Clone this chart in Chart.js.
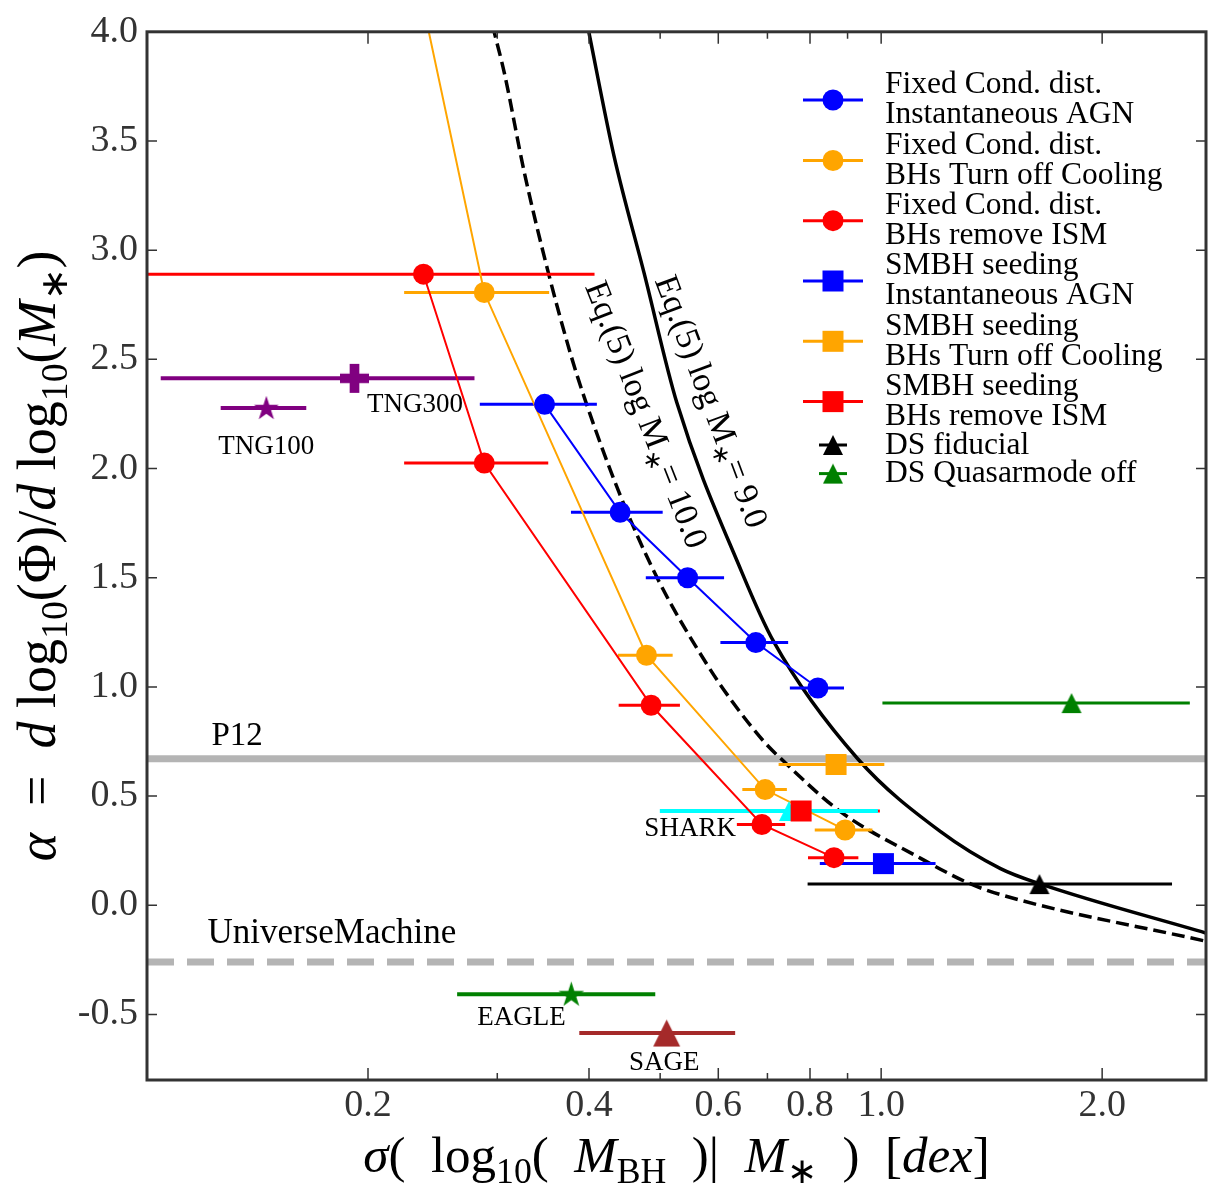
<!DOCTYPE html>
<html>
<head>
<meta charset="utf-8">
<script src="https://cdn.jsdelivr.net/npm/chart.js@4.4.1/dist/chart.umd.min.js"></script>
<style>
  html, body { margin: 0; padding: 0; background: #fff; }
  #wrap { width: 1220px; height: 1200px; }
</style>
</head>
<body>
<div id="wrap"><canvas id="chart"></canvas></div>
<script>
// axis ranges and ticks
const X_MIN = 0.1, X_MAX = 2.77, Y_MIN = -0.8, Y_MAX = 4.0;
const X_TICKS = [0.2, 0.3, 0.4, 0.5, 0.6, 0.7, 0.8, 0.9, 1.0, 2.0];
const X_LABELED = [0.2, 0.4, 0.6, 0.8, 1.0, 2.0];
const Y_TICKS = [-0.5, 0.0, 0.5, 1.0, 1.5, 2.0, 2.5, 3.0, 3.5, 4.0];

// Fixed Cond. dist. / Instantaneous AGN (blue circles)
const agnSigma = [0.348, 0.441, 0.545, 0.675, 0.820];
const agnAlpha = [2.294, 1.800, 1.500, 1.203, 0.995];
const agnLo = [0.284, 0.378, 0.478, 0.604, 0.751];
const agnHi = [0.410, 0.504, 0.611, 0.747, 0.890];

// Fixed Cond. dist. / BHs Turn off Cooling (orange circles), first point sits above the frame
const coolSigma = [0.225, 0.288, 0.479, 0.695, 0.893];
const coolAlpha = [4.5, 2.806, 1.145, 0.530, 0.345];
const coolLo = [null, 0.224, 0.438, 0.647, 0.812];
const coolHi = [null, 0.353, 0.520, 0.744, 0.973];

// Fixed Cond. dist. / BHs remove ISM (red circles)
const ismSigma = [0.238, 0.288, 0.486, 0.688, 0.8625];
const ismAlpha = [2.890, 2.025, 0.916, 0.370, 0.218];
const ismLo = [0.09, 0.224, 0.439, 0.636, 0.795];
const ismHi = [0.407, 0.352, 0.532, 0.740, 0.931];

// single points: [sigma, alpha, err lo, err hi]
const seedAgn = [1.007, 0.191, 0.825, 1.186];
const seedCool = [0.868, 0.645, 0.725, 1.010];
const seedIsm = [0.778, 0.432, 0.556, 0.996];
const dsFiducial = [1.643, 0.097, 0.794, 2.49];
const dsQuasarOff = [1.817, 0.926, 1.004, 2.633];
const tng300 = [0.1917, 2.413, 0.1044, 0.2793];
const tng100 = [0.1454, 2.277, 0.126, 0.1648];
const shark = [0.749, 0.432, 0.4995, 0.990];
const eagle = [0.3784, -0.407, 0.2645, 0.4924];
const sage = [0.5103, -0.585, 0.388, 0.6326];

// horizontal reference values
const P12_ALPHA = 0.671;
const UM_ALPHA = -0.26;

// Eq.(5) curves
const eqM9Sigma = [0.389, 0.400, 0.4326, 0.4753, 0.5268, 0.6459, 0.7142, 0.929, 1.205, 1.454, 1.643, 2.781];
const eqM9Alpha = [4.2, 3.995, 3.432, 2.897, 2.302, 1.526, 1.206, 0.671, 0.337, 0.168, 0.099, -0.129];
const eqM10Sigma = [0.287, 0.2973, 0.3067, 0.3266, 0.3521, 0.3781, 0.3963, 0.4394, 0.4961, 0.5801, 0.6275, 0.6927, 0.730, 0.8809, 1.132, 1.311, 1.454, 2.781];
const eqM10Alpha = [4.2, 3.995, 3.812, 3.355, 2.897, 2.517, 2.302, 1.892, 1.495, 1.099, 0.931, 0.749, 0.672, 0.428, 0.215, 0.104, 0.049, -0.166];

const C = {
  blue: '#0000ff', orange: '#ffa500', red: '#ff0000', green: '#008000', cyan: '#00ffff',
  purple: '#800080', brown: '#a52a2a', gray: '#b4b4b4', black: '#000000', axis: '#333333',
};
const SERIF = '"Liberation Serif", "Times New Roman", serif';

// filled matplotlib-like markers, used as pointStyle images
function makeMarker(shape, size, color) {
  const c = document.createElement('canvas');
  const s = Math.ceil(size + 4);
  c.width = s; c.height = s;
  const g = c.getContext('2d');
  const m = s / 2, r = size / 2;
  g.fillStyle = color;
  g.beginPath();
  if (shape === 'square') {
    g.rect(m - r, m - r, size, size);
  } else if (shape === 'triangle') {
    g.moveTo(m, m - r); g.lineTo(m + r, m + r); g.lineTo(m - r, m + r); g.closePath();
  } else if (shape === 'star') {
    for (let i = 0; i < 10; i++) {
      const a = -Math.PI / 2 + i * Math.PI / 5;
      const rr = i % 2 ? r * 0.382 : r;
      g.lineTo(m + rr * Math.cos(a), m + 0.06 * r + rr * Math.sin(a));
    }
    g.closePath();
  } else if (shape === 'plus') {
    const t = size / 3;
    g.rect(m - t / 2, m - r, t, size);
    g.rect(m - r, m - t / 2, size, t);
  }
  g.fill();
  return c;
}

const MK = {
  blueSq: makeMarker('square', 21, C.blue),
  orangeSq: makeMarker('square', 21, C.orange),
  redSq: makeMarker('square', 21, C.red),
  blackTri: makeMarker('triangle', 20, C.black),
  greenTri: makeMarker('triangle', 20, C.green),
  cyanTri: makeMarker('triangle', 20, C.cyan),
  brownTri: makeMarker('triangle', 27, C.brown),
  purpleStar: makeMarker('star', 26, C.purple),
  greenStar: makeMarker('star', 27, C.green),
  purplePlus: makeMarker('plus', 29, C.purple),
};

function pts(xs, ys) { return xs.map((x, i) => ({ x, y: ys[i] })); }

function bar(lo, hi, y, color, width, order) {
  return { data: [{ x: lo, y }, { x: hi, y }], showLine: true, borderColor: color, borderWidth: width, pointRadius: 0, order };
}

function seriesBars(xs, ys, lo, hi, color) {
  return xs.map((x, i) => lo[i] == null ? null : bar(lo[i], hi[i], ys[i], color, 3, 50)).filter(Boolean);
}

function circleSeries(xs, ys, color, order) {
  return {
    data: pts(xs, ys), showLine: true, borderColor: color, borderWidth: 2,
    pointStyle: 'circle', pointRadius: 10.5, pointBackgroundColor: color, pointBorderWidth: 0, order,
  };
}

function single(p, img, color, barWidth, orderBar, orderMk) {
  return [
    bar(p[2], p[3], p[1], color, barWidth, orderBar),
    { data: [{ x: p[0], y: p[1] }], showLine: false, pointStyle: img, pointRadius: 10, order: orderMk },
  ];
}

const datasets = [
  { data: [{ x: X_MIN, y: P12_ALPHA }, { x: X_MAX, y: P12_ALPHA }], showLine: true, borderColor: C.gray, borderWidth: 7, pointRadius: 0, order: 100 },
  { data: [{ x: X_MIN, y: UM_ALPHA }, { x: X_MAX, y: UM_ALPHA }], showLine: true, borderColor: C.gray, borderWidth: 7, borderDash: [27, 13], pointRadius: 0, order: 100 },
  { data: pts(eqM9Sigma, eqM9Alpha), showLine: true, borderColor: C.black, borderWidth: 3.5, pointRadius: 0, cubicInterpolationMode: 'monotone', order: 90 },
  { data: pts(eqM10Sigma, eqM10Alpha), showLine: true, borderColor: C.black, borderWidth: 3.5, borderDash: [13, 6], pointRadius: 0, cubicInterpolationMode: 'monotone', order: 90 },
  ...seriesBars(agnSigma, agnAlpha, agnLo, agnHi, C.blue),
  ...seriesBars(coolSigma, coolAlpha, coolLo, coolHi, C.orange),
  ...seriesBars(ismSigma, ismAlpha, ismLo, ismHi, C.red),
  circleSeries(ismSigma, ismAlpha, C.red, 12),
  circleSeries(coolSigma, coolAlpha, C.orange, 11),
  circleSeries(agnSigma, agnAlpha, C.blue, 10),
  ...single(tng300, MK.purplePlus, C.purple, 4, 45, 8),
  ...single(tng100, MK.purpleStar, C.purple, 4, 45, 8),
  ...single(eagle, MK.greenStar, C.green, 4, 45, 8),
  ...single(sage, MK.brownTri, C.brown, 4, 45, 8),
  ...single(seedIsm, MK.redSq, C.red, 3, 48, 5),
  ...single(shark, MK.cyanTri, C.cyan, 4, 46, 6),
  ...single(seedAgn, MK.blueSq, C.blue, 3, 48, 5),
  ...single(seedCool, MK.orangeSq, C.orange, 3, 48, 5),
  ...single(dsFiducial, MK.blackTri, C.black, 3, 48, 5),
  ...single(dsQuasarOff, MK.greenTri, C.green, 3, 48, 5),
];

// ---- text helpers (mixed italic / subscript runs) ----
function fontOf(size, italic) { return (italic ? 'italic ' : '') + size + 'px ' + SERIF; }
function richWidth(ctx, segs, size) {
  let w = 0;
  for (const s of segs) { ctx.font = fontOf(s.sub ? size * 0.7 : size, s.it); w += ctx.measureText(s.t).width; }
  return w;
}
function drawRich(ctx, segs, x, y, size) {
  for (const s of segs) {
    const fs = s.sub ? size * 0.7 : size;
    ctx.font = fontOf(fs, s.it);
    ctx.fillText(s.t, x, y + (s.sub ? size * 0.22 : 0));
    x += ctx.measureText(s.t).width;
  }
}

const X_TITLE = [
  { t: 'σ', it: true }, { t: '(  log' }, { t: '10', sub: true }, { t: '(  ' }, { t: 'M', it: true }, { t: 'BH', sub: true },
  { t: '  )|  ' }, { t: 'M', it: true }, { t: '∗', sub: true }, { t: '  )  [' }, { t: 'dex', it: true }, { t: ']' },
];
const Y_TITLE = [
  { t: 'α', it: true }, { t: '  =  ' }, { t: 'd', it: true }, { t: ' log' }, { t: '10', sub: true }, { t: '(Φ)/' },
  { t: 'd', it: true }, { t: ' log' }, { t: '10', sub: true }, { t: '(' }, { t: 'M', it: true }, { t: '∗', sub: true }, { t: ')' },
];
const EQ9 = [{ t: 'Eq.(5) log M' }, { t: '∗', sub: true }, { t: '= 9.0' }];
const EQ10 = [{ t: 'Eq.(5) log M' }, { t: '∗', sub: true }, { t: '= 10.0' }];

// in-plot annotations: [text, sigma, alpha (baseline), size, align]
const NOTES = [
  ['P12', 0.1224, 0.733, 33, 'left'],
  ['UniverseMachine', 0.1209, -0.174, 35, 'left'],
  ['TNG300', 0.2317, 2.257, 27, 'center'],
  ['TNG100', 0.1454, 2.066, 27, 'center'],
  ['SHARK', 0.5493, 0.319, 27, 'center'],
  ['EAGLE', 0.3236, -0.547, 27, 'center'],
  ['SAGE', 0.5064, -0.753, 27, 'center'],
];

const LEGEND_ITEMS = [
  { text: ['Fixed Cond. dist.', 'Instantaneous AGN'], color: C.blue, mk: 'circle' },
  { text: ['Fixed Cond. dist.', 'BHs Turn off Cooling'], color: C.orange, mk: 'circle' },
  { text: ['Fixed Cond. dist.', 'BHs remove ISM'], color: C.red, mk: 'circle' },
  { text: ['SMBH seeding', 'Instantaneous AGN'], color: C.blue, mk: MK.blueSq },
  { text: ['SMBH seeding', 'BHs Turn off Cooling'], color: C.orange, mk: MK.orangeSq },
  { text: ['SMBH seeding', 'BHs remove ISM'], color: C.red, mk: MK.redSq },
  { text: ['DS fiducial'], color: C.black, mk: MK.blackTri, short: true },
  { text: ['DS Quasarmode off'], color: C.green, mk: MK.greenTri, short: true },
];
const LEGEND_Y = [100, 160.5, 220.7, 281, 341.3, 401.6, 445, 473.6];

const decor = {
  id: 'decor',
  afterDraw(chart) {
    const { ctx, chartArea: a } = chart;
    const xs = chart.scales.x, ys = chart.scales.y;
    ctx.save();

    // frame and inward ticks on all four sides
    ctx.strokeStyle = C.axis;
    ctx.lineWidth = 1.5;
    ctx.beginPath();
    for (const v of X_TICKS) {
      const px = xs.getPixelForValue(v);
      const len = X_LABELED.includes(v) ? 12 : 7;
      ctx.moveTo(px, a.bottom); ctx.lineTo(px, a.bottom - len);
      ctx.moveTo(px, a.top); ctx.lineTo(px, a.top + len);
    }
    for (const v of Y_TICKS) {
      const py = ys.getPixelForValue(v);
      ctx.moveTo(a.left, py); ctx.lineTo(a.left + 10, py);
      ctx.moveTo(a.right, py); ctx.lineTo(a.right - 10, py);
    }
    ctx.stroke();
    ctx.lineWidth = 3;
    ctx.strokeRect(a.left, a.top, a.right - a.left, a.bottom - a.top);

    // annotations
    ctx.fillStyle = '#000';
    ctx.textBaseline = 'alphabetic';
    for (const [t, sx, sy, size, align] of NOTES) {
      ctx.font = fontOf(size, false);
      ctx.textAlign = align;
      ctx.fillText(t, xs.getPixelForValue(sx), ys.getPixelForValue(sy));
    }
    ctx.textAlign = 'left';

    // Eq.(5) curve labels, rotated along the curves
    const rot = (segs, sx, sy, deg, size) => {
      ctx.save();
      ctx.translate(xs.getPixelForValue(sx), ys.getPixelForValue(sy));
      ctx.rotate(deg * Math.PI / 180);
      const w = richWidth(ctx, segs, size);
      drawRich(ctx, segs, -w / 2, size * 0.33, size);
      ctx.restore();
    };
    rot(EQ9, 0.588, 2.308, 69.4, 34);
    rot(EQ10, 0.4797, 2.248, 68.6, 34);

    // legend
    LEGEND_ITEMS.forEach((it, i) => {
      const y = LEGEND_Y[i];
      ctx.strokeStyle = it.color;
      ctx.lineWidth = 3;
      ctx.beginPath();
      ctx.moveTo(it.short ? 819 : 803, y);
      ctx.lineTo(it.short ? 847 : 863, y);
      ctx.stroke();
      if (it.mk === 'circle') {
        ctx.fillStyle = it.color;
        ctx.beginPath(); ctx.arc(833, y, 10.5, 0, Math.PI * 2); ctx.fill();
      } else {
        ctx.drawImage(it.mk, 833 - it.mk.width / 2, y - it.mk.height / 2);
      }
      ctx.fillStyle = '#000';
      ctx.font = fontOf(31.5, false);
      if (it.text.length === 2) {
        ctx.fillText(it.text[0], 885, y - 6.7);
        ctx.fillText(it.text[1], 885, y + 23.4);
      } else {
        ctx.fillText(it.text[0], 885, y + 8.5);
      }
    });

    // axis titles, centred on the axes
    ctx.fillStyle = '#000';
    const xw = richWidth(ctx, X_TITLE, 51);
    drawRich(ctx, X_TITLE, (a.left + a.right) / 2 - xw / 2, 1172, 51);
    const yw = richWidth(ctx, Y_TITLE, 54);
    ctx.save();
    ctx.translate(55, (a.top + a.bottom) / 2 + yw / 2);
    ctx.rotate(-Math.PI / 2);
    drawRich(ctx, Y_TITLE, 0, 0, 54);
    ctx.restore();

    ctx.restore();
  },
};

new Chart(document.getElementById('chart'), {
  type: 'scatter',
  data: { datasets },
  options: {
    responsive: true,
    maintainAspectRatio: false,
    animation: false,
    events: [],
    layout: { padding: { top: 29, right: 14, left: 0, bottom: 0 } },
    plugins: { legend: { display: false }, tooltip: { enabled: false } },
    scales: {
      x: {
        type: 'logarithmic', min: X_MIN, max: X_MAX,
        afterBuildTicks: s => { s.ticks = X_TICKS.map(v => ({ value: v })); },
        afterFit: s => { s.height = 120; },
        grid: { display: false, drawTicks: false },
        border: { display: false },
        ticks: {
          autoSkip: false, maxRotation: 0, padding: 3, color: C.axis,
          font: { family: SERIF, size: 38 },
          callback: v => X_LABELED.includes(v) ? v.toFixed(1) : '',
        },
      },
      y: {
        type: 'linear', min: Y_MIN, max: Y_MAX,
        afterBuildTicks: s => { s.ticks = Y_TICKS.map(v => ({ value: v })); },
        afterFit: s => { s.width = 147; },
        grid: { display: false, drawTicks: false },
        border: { display: false },
        ticks: {
          padding: 9, color: C.axis,
          font: { family: SERIF, size: 38 },
          callback: v => v.toFixed(1),
        },
      },
    },
  },
  plugins: [decor],
});
</script>
</body>
</html>
